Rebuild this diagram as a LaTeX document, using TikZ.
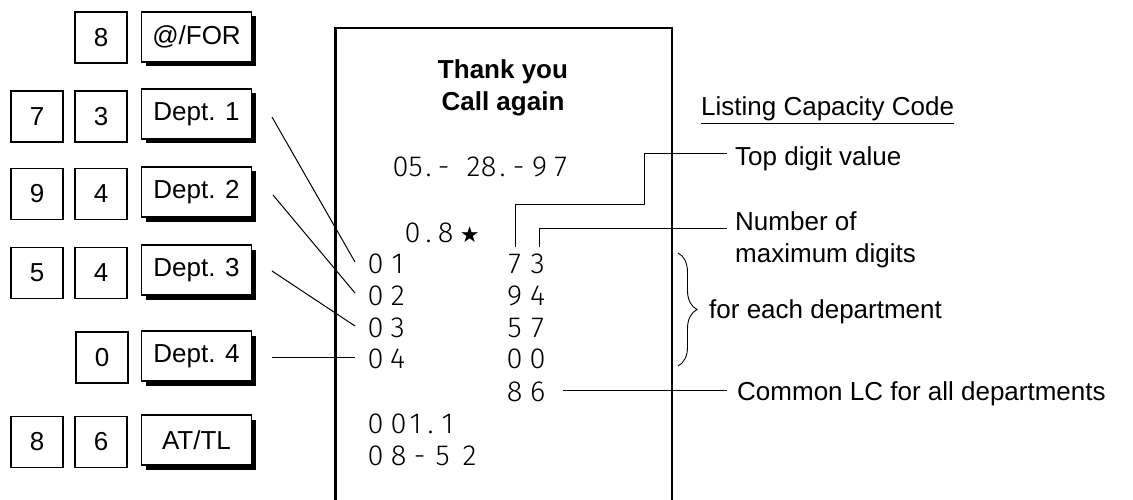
\documentclass[tikz,border=0pt]{standalone}
\usepackage{fontspec}
\setmainfont{Liberation Sans}
\newfontfamily\rcpt{Fira Sans Light}
\newfontfamily\symf{DejaVu Sans}
\usetikzlibrary{shadows,decorations.pathreplacing}
\newcommand\rch[2]{\rlap{\hspace*{#1pt}\makebox[0pt]{#2}}}
\tikzset{
  lab/.style={font=\fontsize{26pt}{31pt}\selectfont, inner sep=0pt, anchor=base west},
  keybox/.style={draw, line width=1.6pt, minimum width=52pt, minimum height=51pt, inner sep=0pt, font=\fontsize{26pt}{31pt}\selectfont},
  bigkey/.style={draw, line width=1.6pt, fill=white, minimum width=110pt, minimum height=50pt, inner sep=0pt,
    font=\fontsize{26pt}{31pt}\selectfont,
    drop shadow={shadow xshift=4.5pt, shadow yshift=-4.5pt, opacity=1, fill=black}},
  rc/.style={font=\rcpt\fontsize{29pt}{33pt}\selectfont, inner sep=0pt, anchor=base west},
  conn/.style={line width=1pt},
}
\begin{document}
\begin{tikzpicture}[x=1pt,y=-1pt]
\useasboundingbox (0,0) rectangle (1133,500);

% keys
\node[keybox] (k8a) at (101,37.5) {8};
\node[bigkey] (kfor) at (196.5,37) {@/FOR};
\node[keybox] (k7) at (37,116.5) {7};
\node[keybox] (k3) at (101,116.5) {3};
\node[bigkey] (d1) at (196.5,114) {\raisebox{-2pt}{Dept. 1}};
\node[keybox] (k9) at (37,194) {9};
\node[keybox] (k4a) at (101,194) {4};
\node[bigkey] (d2) at (196.5,192) {\raisebox{-2pt}{Dept. 2}};
\node[keybox] (k5) at (37,273) {5};
\node[keybox] (k4b) at (101,273) {4};
\node[bigkey] (d3) at (196.5,270) {\raisebox{-2pt}{Dept. 3}};
\node[keybox] (k0) at (102,357.5) {0};
\node[bigkey] (d4) at (196.5,356) {\raisebox{-2pt}{Dept. 4}};
\node[keybox] (k8b) at (37,442) {8};
\node[keybox] (k6) at (101,442) {6};
\node[bigkey] (atl) at (196.5,440) {AT/TL};

% receipt
\draw[line width=2.6pt] (335.5,510) -- (335.5,28) -- (672,28) -- (672,510);
\node[font=\bfseries\fontsize{26pt}{32pt}\selectfont, align=center, inner sep=0pt] (ty) at (503,88) {Thank you\\Call again};

\node[rc] (rdate) at (400,177) {\rch{0}{0}\rch{15}{5}\rch{28}{.}\rch{43}{-}\rch{73}{2}\rch{88}{8}\rch{102}{.}\rch{118}{-}\rch{139}{9}\rch{160}{7}};
\node[rc] (rstar) at (412,242) {\rch{0}{0}\rch{16}{.}\rch{33}{8}\rch{57}{{\symf\fontsize{22pt}{24pt}\selectfont ★}}};
\node[rc] (r01) at (375,273) {\rch{0}{0}\rch{22}{1}};
\node[rc] (c73) at (514,273) {\rch{0}{7}\rch{23}{3}};
\node[rc] (r02) at (375,305) {\rch{0}{0}\rch{22}{2}};
\node[rc] (c94) at (514,305) {\rch{0}{9}\rch{23}{4}};
\node[rc] (r03) at (375,337) {\rch{0}{0}\rch{22}{3}};
\node[rc] (c57) at (514,337) {\rch{0}{5}\rch{23}{7}};
\node[rc] (r04) at (375,368) {\rch{0}{0}\rch{22}{4}};
\node[rc] (c00) at (514,368) {\rch{0}{0}\rch{23}{0}};
\node[rc] (c86) at (514,401) {\rch{0}{8}\rch{23}{6}};
\node[rc] (r001) at (375,433) {\rch{0}{0}\rch{23}{0}\rch{40}{1}\rch{55}{.}\rch{72}{1}};
\node[rc] (r08) at (375,465) {\rch{0}{0}\rch{23}{8}\rch{44}{-}\rch{67}{5}\rch{94}{2}};

% labels
\node[lab] (lcc) at (701,116) {\underline{Listing Capacity Code}};
\node[lab] (ltop) at (735,165) {Top digit value};
\node[lab] (lnum) at (735,230) {Number of};
\node[lab] (lmax) at (735,262) {maximum digits};
\node[lab] (leach) at (709,318) {for each department};
\node[lab] (lcom) at (737,400) {Common LC for all departments};

% connectors from department keys
\coordinate (s1) at (272,117); \coordinate (e1) at (355,262);
\coordinate (s2) at (273,195); \coordinate (e2) at (355,293);
\coordinate (s3) at (272,271); \coordinate (e3) at (355,326);
\coordinate (s4) at (272,357); \coordinate (e4) at (355,357);
\draw[conn] (s1) -- (e1);
\draw[conn] (s2) -- (e2);
\draw[conn] (s3) -- (e3);
\draw[conn] (s4) -- (e4);

% label leaders
\coordinate (t0) at (515,247); \coordinate (t1) at (644,204); \coordinate (t2) at (727,154);
\draw[conn] (t0) |- (t1) |- (t2);
\coordinate (n0) at (539,247); \coordinate (n1) at (727,228);
\draw[conn] (n0) |- (n1);
\coordinate (m0) at (563,390); \coordinate (m1) at (727,390);
\draw[conn] (m0) -- (m1);

% brace
\coordinate (b0) at (678,253); \coordinate (b1) at (678,366);
\draw[line width=0.9pt, decorate, decoration={brace, amplitude=19pt}] (b0) -- (b1);
\end{tikzpicture}
\end{document}
